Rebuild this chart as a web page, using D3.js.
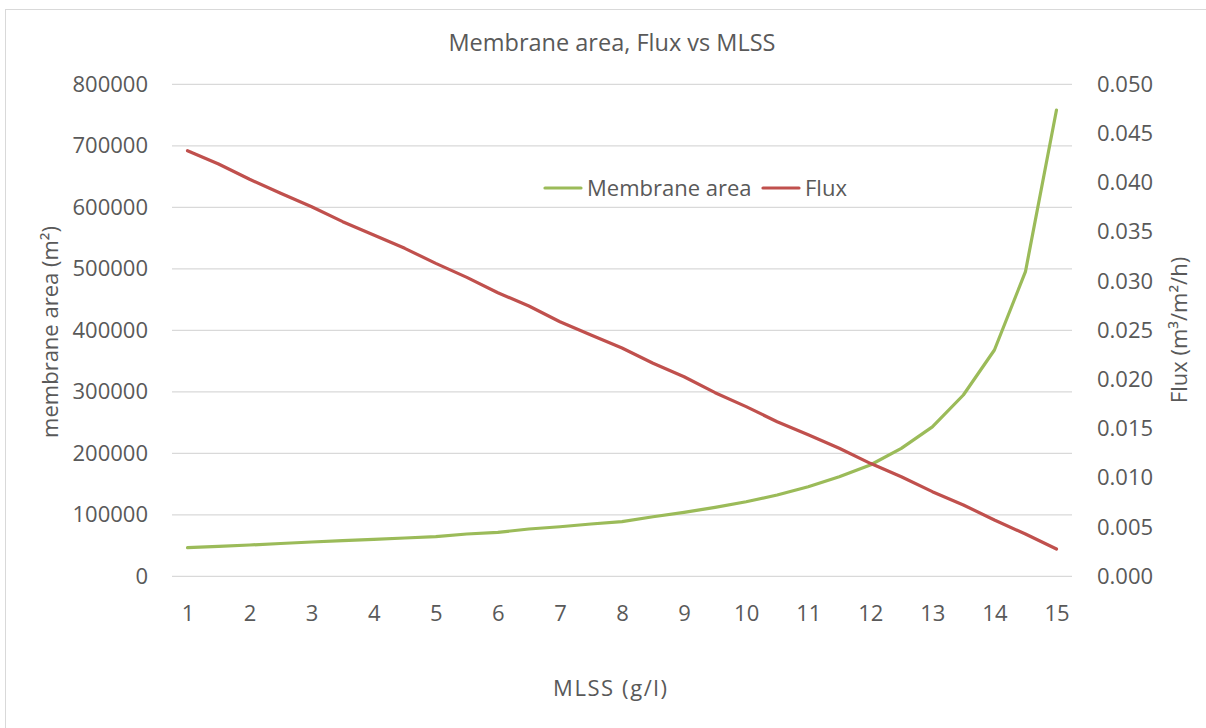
<!DOCTYPE html>
<html>
<head>
<meta charset="utf-8">
<script src="https://cdn.jsdelivr.net/npm/d3@7"></script>
<style>
  html, body { margin: 0; padding: 0; background: #fff; }
  svg { display: block; }
  text { font-family: "Open Sans", "Liberation Sans", sans-serif; fill: #595959; }
</style>
</head>
<body>
<script>
// MLSS values (g/l), one point every 0.5
const mlss = [1, 1.5, 2, 2.5, 3, 3.5, 4, 4.5, 5, 5.5, 6, 6.5, 7, 7.5, 8, 8.5, 9, 9.5, 10,
              10.5, 11, 11.5, 12, 12.5, 13, 13.5, 14, 14.5, 15];

// Required membrane area (m²)
const membraneArea = [46500, 48700, 50900, 53300, 55800, 58000, 60200, 62300, 64400, 68800,
                      71500, 76900, 80600, 85000, 88800, 96900, 104000, 112200, 121300, 132200,
                      145700, 162000, 181000, 208100, 243000, 294800, 368000, 495300, 758200];

// Flux (m³/m²/h)
const flux = [0.04325, 0.04190, 0.04035, 0.03892, 0.03756, 0.03604, 0.03469, 0.03333, 0.03180,
              0.03038, 0.02882, 0.02747, 0.02587, 0.02452, 0.02320, 0.02165, 0.02028, 0.01866,
              0.01724, 0.01571, 0.01439, 0.01301, 0.01148, 0.01012, 0.00860, 0.00725, 0.00572,
              0.00430, 0.00277];

// Axis ticks
const xTickLabels = [1, 2, 3, 4, 5, 6, 7, 8, 9, 10, 11, 12, 13, 14, 15];
const leftTicks = [0, 100000, 200000, 300000, 400000, 500000, 600000, 700000, 800000];
const rightTicks = [0, 0.005, 0.010, 0.015, 0.020, 0.025, 0.030, 0.035, 0.040, 0.045, 0.050];

const W = 1206, H = 728;
const plot = { left: 172, right: 1072, top: 84.3, bottom: 576.3 };
const labelSize = "22px";

const svg = d3.select("body").append("svg").attr("width", W).attr("height", H);

// chart frame
svg.append("rect")
  .attr("x", 5.5).attr("y", 9.5).attr("width", 1210).attr("height", 740)
  .attr("fill", "#fff").attr("stroke", "#d9d9d9").attr("stroke-width", 1);

// category axis: each MLSS value occupies one band
const x = d3.scalePoint().domain(mlss).range([plot.left, plot.right]).padding(0.5);
const yL = d3.scaleLinear().domain([0, 800000]).range([plot.bottom, plot.top]);
const yR = d3.scaleLinear().domain([0, 0.05]).range([plot.bottom, plot.top]);

// gridlines
svg.append("g").selectAll("line").data(leftTicks).join("line")
  .attr("x1", plot.left).attr("x2", plot.right)
  .attr("y1", d => yL(d)).attr("y2", d => yL(d))
  .attr("stroke", "#d9d9d9").attr("stroke-width", 1.3);

function styleAxis(g) {
  g.select(".domain").remove();
  g.selectAll("text").style("font-size", labelSize).attr("fill", "#595959")
    .style("font-family", "'Open Sans', sans-serif");
}

// left axis labels
svg.append("g").attr("transform", `translate(${plot.left},0)`)
  .call(d3.axisLeft(yL).tickValues(leftTicks).tickSize(0).tickPadding(24).tickFormat(d3.format("d")))
  .call(styleAxis);

// right axis labels
svg.append("g").attr("transform", `translate(${plot.right},0)`)
  .call(d3.axisRight(yR).tickValues(rightTicks).tickSize(0).tickPadding(25).tickFormat(d3.format(".3f")))
  .call(styleAxis);

// bottom axis labels, every other category
svg.append("g").attr("transform", `translate(0,${plot.bottom})`)
  .call(d3.axisBottom(x).tickValues(xTickLabels).tickSize(0).tickPadding(29).tickFormat(d3.format("d")))
  .call(styleAxis);

// series lines
const areaLine = d3.line().x((d, i) => x(mlss[i])).y(d => yL(d));
const fluxLine = d3.line().x((d, i) => x(mlss[i])).y(d => yR(d));

svg.append("path").datum(membraneArea).attr("d", areaLine)
  .attr("fill", "none").attr("stroke", "#9bbb59").attr("stroke-width", 3.2)
  .attr("stroke-linejoin", "round").attr("stroke-linecap", "round");

svg.append("path").datum(flux).attr("d", fluxLine)
  .attr("fill", "none").attr("stroke", "#c0504d").attr("stroke-width", 3.2)
  .attr("stroke-linejoin", "round").attr("stroke-linecap", "round");

// title
svg.append("text").attr("x", 612).attr("y", 51).attr("text-anchor", "middle")
  .style("font-size", "23.5px").text("Membrane area, Flux vs MLSS");

// axis titles
svg.append("text").attr("x", 610).attr("y", 696).attr("text-anchor", "middle")
  .style("font-size", labelSize).attr("textLength", 114).text("MLSS (g/l)");

svg.append("text").attr("transform", "translate(58,332) rotate(-90)").attr("text-anchor", "middle")
  .style("font-size", labelSize).text("membrane area (m²)");

svg.append("text").attr("transform", "translate(1187,330) rotate(-90)").attr("text-anchor", "middle")
  .style("font-size", labelSize).text("Flux (m³/m²/h)");

// legend
const legend = [
  { name: "Membrane area", color: "#9bbb59", x: 545 },
  { name: "Flux", color: "#c0504d", x: 763 }
];
const lg = svg.append("g").selectAll("g").data(legend).join("g")
  .attr("transform", d => `translate(${d.x},188)`);
lg.append("line").attr("x1", 0).attr("x2", 36).attr("y1", 0).attr("y2", 0)
  .attr("stroke", d => d.color).attr("stroke-width", 3.2).attr("stroke-linecap", "round");
lg.append("text").attr("x", 42).attr("y", 8).style("font-size", labelSize).text(d => d.name);
</script>
</body>
</html>
